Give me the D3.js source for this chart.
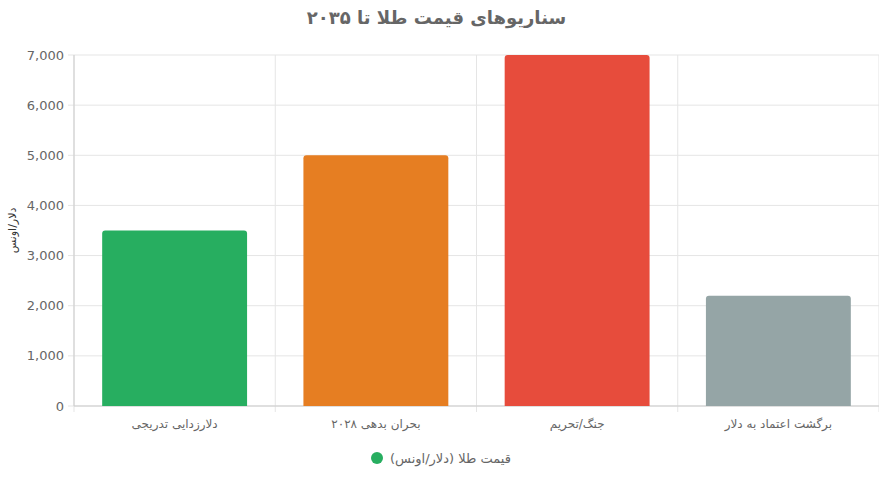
<!DOCTYPE html>
<html><head><meta charset="utf-8">
<script src="https://cdn.jsdelivr.net/npm/d3@7/dist/d3.min.js"></script>
<style>body{margin:0;background:#fff}svg{font-family:"DejaVu Sans",Arial,sans-serif}</style>
</head><body><svg id="c" width="879" height="478"></svg>
<script>
const categories=["دلارزدایی تدریجی","بحران بدهی ۲۰۲۸","جنگ/تحریم","برگشت اعتماد به دلار"];
const values=[3500,5000,7000,2200];
const colors=["#27ae60","#e67e22","#e74c3c","#95a5a6"];
const yTicks=[0,1000,2000,3000,4000,5000,6000,7000];
const title="سناریوهای قیمت طلا تا ۲۰۳۵";
const yLabel="دلار/اونس";
const legendLabel="قیمت طلا (دلار/اونس)";

const svg=d3.select("#c");
const L=74,R=879,T=55,B=406;
const x=d3.scaleBand().domain(categories).range([L,R]).paddingInner(0).paddingOuter(0);
const y=d3.scaleLinear().domain([0,7000]).range([B,T]);
const g=svg.append("g");
// grid
g.selectAll(".hg").data(yTicks).join("line").attr("x1",L-6).attr("x2",R).attr("y1",d=>y(d)).attr("y2",d=>y(d)).attr("stroke","#e5e5e5");
const vx=categories.map(c=>x(c)).concat([R]);
g.selectAll(".vg").data(vx).join("line").attr("x1",d=>d).attr("x2",d=>d).attr("y1",T).attr("y2",B+6).attr("stroke","#e5e5e5");
g.append("line").attr("x1",L).attr("x2",L).attr("y1",T).attr("y2",B).attr("stroke","#ccc");
g.append("line").attr("x1",L).attr("x2",R).attr("y1",B).attr("y2",B).attr("stroke","#ccc");
// y ticks labels
g.selectAll(".yt").data(yTicks).join("text").attr("x",L-10).attr("y",d=>y(d)).attr("dy","0.35em").attr("text-anchor","end").attr("font-size",13).attr("fill","#666").text(d=>d3.format(",")(d));
// bars
const bw=x.bandwidth()*0.72;
g.selectAll(".bar").data(values).join("path").attr("fill",(d,i)=>colors[i]).attr("d",(d,i)=>{
  const x0=x(categories[i])+(x.bandwidth()-bw)/2,x1=x0+bw,y0=y(d),r=3;
  return `M${x0},${B}V${y0+r}Q${x0},${y0} ${x0+r},${y0}H${x1-r}Q${x1},${y0} ${x1},${y0+r}V${B}Z`;});
// x labels
g.selectAll(".xl").data(categories).join("text").attr("x",d=>x(d)+x.bandwidth()/2).attr("y",B+22).attr("text-anchor","middle").attr("font-size",12).attr("fill","#666").attr("direction","rtl").text(d=>d);
// title
svg.append("text").attr("x",(L+R)/2-40).attr("y",24).attr("text-anchor","middle").attr("font-size",18).attr("font-weight","bold").attr("fill","#666").attr("direction","rtl").text(title);
// y label
svg.append("text").attr("transform",`translate(16,${(T+B)/2}) rotate(-90)`).attr("text-anchor","middle").attr("font-size",11).attr("fill","#333").attr("direction","rtl").text(yLabel);
// legend
svg.append("circle").attr("cx",377).attr("cy",458).attr("r",6).attr("fill",colors[0]);
svg.append("text").attr("x",390).attr("y",458).attr("dy","0.35em").attr("font-size",13).attr("fill","#666").attr("text-anchor","start").text(legendLabel);
</script></body></html>
